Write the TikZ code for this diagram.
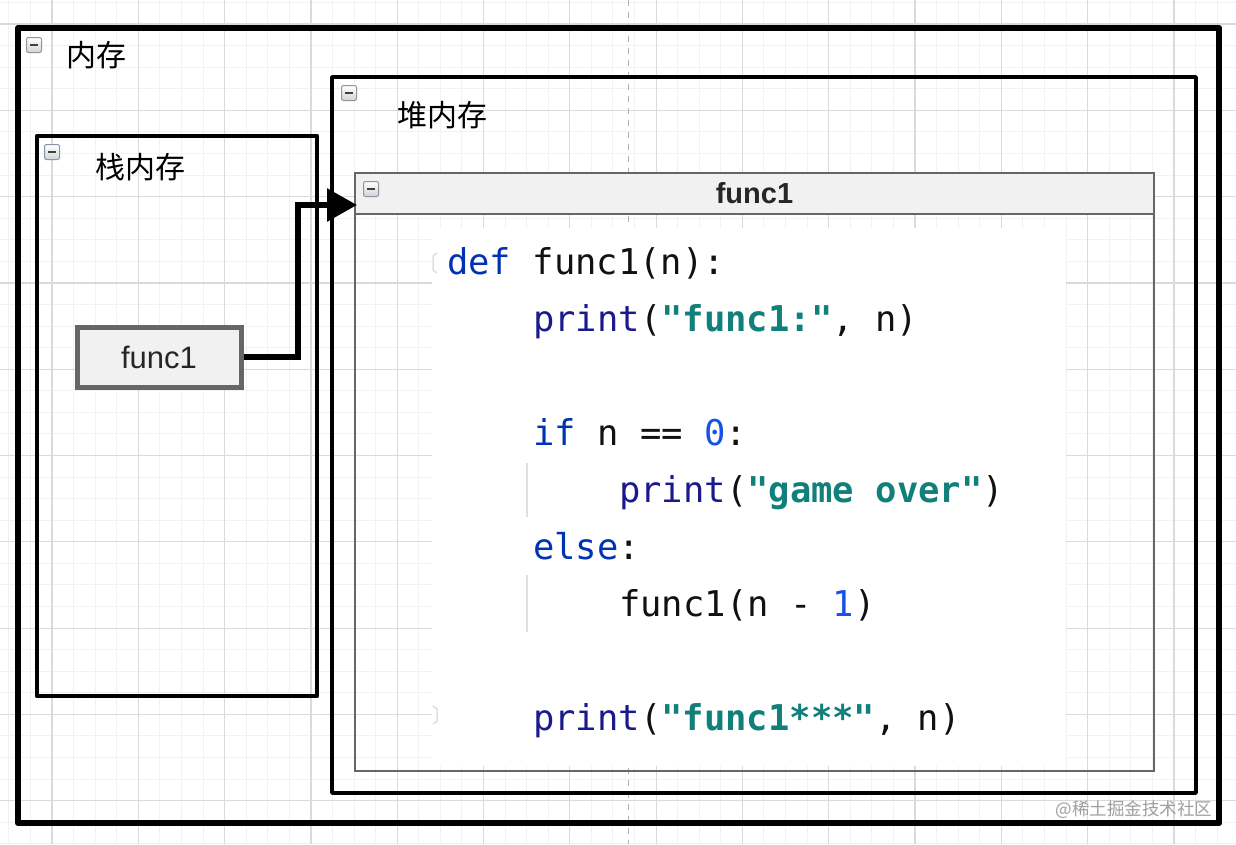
\documentclass[tikz,border=0pt]{standalone}
\usepackage{fontspec}
\setmainfont{Liberation Sans}
\newfontfamily\cjk{Noto Sans CJK SC}
\newfontfamily\codefont{DejaVu Sans Mono}
\usetikzlibrary{arrows.meta}

\definecolor{gridminor}{HTML}{F2F2F2}
\definecolor{gridmajor}{HTML}{DADADA}
\definecolor{lanefill}{HTML}{F1F1F1}
\definecolor{laneline}{HTML}{666666}
\definecolor{kwblue}{HTML}{0033B3}
\definecolor{fnnavy}{HTML}{1A1A8C}
\definecolor{strteal}{HTML}{11807A}
\definecolor{numblue}{HTML}{1750EB}
\definecolor{plain}{HTML}{111111}
\definecolor{iconline}{HTML}{8A96A3}

\tikzset{
  memframe/.style={draw=black, line width=6.5pt, line join=round},
  stackframe/.style={draw=black, line width=4.5pt, line join=round},
  heapframe/.style={draw=black, line width=3.5pt, line join=round},
  lanebox/.style={draw=laneline, line width=1.5pt},
  lanehead/.style={draw=laneline, line width=1.5pt, fill=lanefill, minimum width=799pt,
    minimum height=41pt, inner sep=0pt, font=\bfseries\fontsize{29}{31}\selectfont, text=black!85},
  callbox/.style={draw=laneline, line width=5pt, fill=lanefill, minimum width=164pt,
    minimum height=60pt, inner sep=0pt, font=\fontsize{31}{33}\selectfont, text=black!85},
  minusbox/.style={draw=iconline, line width=1pt, top color=white, bottom color=gray!35,
    minimum size=15pt, inner sep=0pt, rounded corners=2pt,
    path picture={\draw[line width=2.2pt, black!75]
      ([xshift=3.5pt]path picture bounding box.west) -- ([xshift=-3.5pt]path picture bounding box.east);}},
  memlabel/.style={font=\cjk\fontsize{30}{32}\selectfont},
  codeline/.style={anchor=base west, inner sep=0pt, font=\codefont\fontsize{35.5}{40}\selectfont, text=plain},
  flowarrow/.style={draw=black, line width=6pt, -{Triangle[length=30pt,width=32pt]}},
}
\newcommand{\kw}[1]{\textcolor{kwblue}{#1}}
\newcommand{\fn}[1]{\textcolor{fnnavy}{#1}}
\newcommand{\str}[1]{\textcolor{strteal}{\bfseries #1}}
\newcommand{\num}[1]{\textcolor{numblue}{#1}}

\begin{document}
\begin{tikzpicture}[x=1pt,y=-1pt]
  \useasboundingbox (0,0) rectangle (1236,844);
  \fill[white] (0,0) rectangle (1236,844);

  % grid behind everything
  \foreach \k in {0,...,57}
    \draw[gridminor, line width=1pt] (8.85+21.575*\k,0) -- (8.85+21.575*\k,844);
  \foreach \k in {0,...,39}
    \draw[gridminor, line width=1pt] (0,2.4+21.575*\k) -- (1236,2.4+21.575*\k);
  \foreach \k in {0,...,13}
    \draw[gridmajor, line width=1.2pt] (52+86.3*\k,0) -- (52+86.3*\k,844);
  \foreach \k in {0,...,9}
    \draw[gridmajor, line width=1.2pt] (0,24+86.3*\k) -- (1236,24+86.3*\k);
  \draw[gray!60, line width=1pt, dash pattern=on 6pt off 6pt] (628,0) -- (628,844);

  % memory
  \draw[memframe] (18,28) rectangle (1219,823);
  \node[minusbox] (memicon) at (34,45) {};
  \node[memlabel] (memlbl) at (96,55) {内存};

  % stack
  \draw[stackframe] (37,136) rectangle (317,696);
  \node[minusbox] (stackicon) at (52,152) {};
  \node[memlabel] (stacklbl) at (140,167) {栈内存};

  % heap
  \draw[heapframe] (332,77) rectangle (1196,793);
  \node[minusbox] (heapicon) at (349,93) {};
  \node[memlabel] (heaplbl) at (442,115) {堆内存};

  % func1 frame in the heap
  \draw[lanebox] (355,173) rectangle (1154,771);
  \fill[white] (432,228) rectangle (1066,766);
  \node[lanehead] (fhead) at (754.5,193.5) {func1};
  \node[minusbox] (laneicon) at (371,189) {};

  % code
  \draw[gray!25, line width=1.5pt] (437,253) -- (433,256) -- (433,270) -- (437,273);
  \draw[gray!25, line width=1.5pt] (433,706) -- (437,709) -- (437,721) -- (433,724);
  \draw[gray!25, line width=1.2pt] (527,463) -- (527,517);
  \draw[gray!25, line width=1.2pt] (527,575) -- (527,632);
  \node[codeline] (c1) at (447,274) {\kw{def} func1(n):};
  \node[codeline] (c2) at (533,331) {\fn{print}(\str{"func1:"}, n)};
  \node[codeline] (c4) at (533,445) {\kw{if} n == \num{0}:};
  \node[codeline] (c5) at (619,502) {\fn{print}(\str{"game over"})};
  \node[codeline] (c6) at (533,559) {\kw{else}:};
  \node[codeline] (c7) at (619,616) {func1(n - \num{1})};
  \node[codeline] (c9) at (533,730) {\fn{print}(\str{"func1***"}, n)};

  % call in the stack
  \node[callbox] (fcall) at (159,357) {func1};
  \coordinate (entry) at (357,205);
  \draw[flowarrow] (fcall.east) -- ++(54,0) |- (entry);

  \node[font=\cjk\fontsize{17.5}{19}\selectfont, text=gray!75] (mark) at (1134,810) {@稀土掘金技术社区};
\end{tikzpicture}
\end{document}
